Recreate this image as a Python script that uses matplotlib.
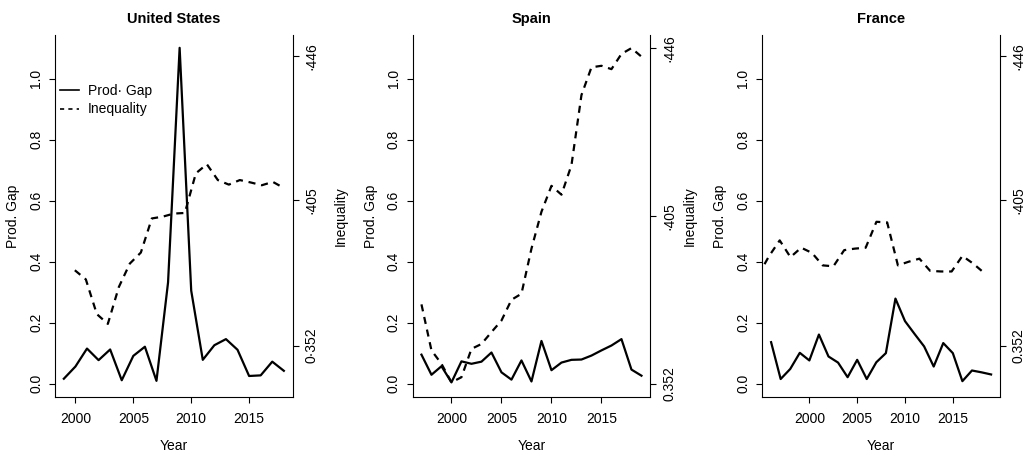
import numpy as np
import matplotlib
matplotlib.use("Agg")
import matplotlib.pyplot as plt
from matplotlib.lines import Line2D

plt.rcParams['font.family'] = ['Liberation Sans', 'DejaVu Sans']

# productivity gap (left axis)
us_years = list(range(1999, 2019))
us_gap = [0.016, 0.056, 0.115, 0.077, 0.112, 0.011, 0.091, 0.121, 0.009, 0.332,
          1.102, 0.305, 0.078, 0.126, 0.146, 0.111, 0.025, 0.027, 0.072, 0.042]
spain_years = list(range(1997, 2020))
spain_gap = [0.095, 0.029, 0.057, 0.004, 0.073, 0.065, 0.072, 0.102, 0.037, 0.013,
             0.076, 0.007, 0.140, 0.044, 0.069, 0.078, 0.079, 0.092, 0.109, 0.125,
             0.146, 0.046, 0.026]
france_years = list(range(1996, 2020))
france_gap = [0.136, 0.015, 0.048, 0.101, 0.076, 0.161, 0.089, 0.069, 0.021, 0.078,
              0.015, 0.070, 0.100, 0.279, 0.205, 0.163, 0.122, 0.056, 0.133, 0.100,
              0.008, 0.043, 0.037, 0.030]

# inequality, drawn on its own overlaid scale (values in plot units)
us_ineq_years = list(range(1999, 2019))
us_ineq = [0.372, 0.342, 0.228, 0.196, 0.317, 0.394, 0.430, 0.542, 0.548, 0.558,
           0.560, 0.690, 0.720, 0.668, 0.653, 0.668, 0.660, 0.651, 0.662, 0.642]
spain_ineq_years = list(range(1997, 2020))
spain_ineq = [0.260, 0.109, 0.065, 0.004, 0.021, 0.114, 0.130, 0.169, 0.207, 0.275,
              0.295, 0.443, 0.564, 0.649, 0.620, 0.717, 0.947, 1.038, 1.043, 1.032,
              1.082, 1.101, 1.073]
france_ineq_years = list(range(1997, 2019))
france_ineq = [0.355, 0.418, 0.470, 0.415, 0.446, 0.429, 0.388, 0.385, 0.438, 0.443,
               0.446, 0.531, 0.529, 0.388, 0.400, 0.410, 0.370, 0.368, 0.368, 0.419,
               0.394, 0.364]

titles = ['United States', 'Spain', 'France']
ineq_xlims = [(1997.2, 2018.8), (1996.12, 2019.88), (1997.38, 2019.49)]
right_ticks = [[0.125, 0.602, 1.076], [0.0, 0.551, 1.102], [0.125, 0.602, 1.076]]
right_labels = [['0\u00b7352', '\u00b7405', '\u00b7446'],
                ['0.352', '\u00b7405', '\u00b7446'],
                ['0.352', '\u00b7405', '\u00b7446']]
left_ticks = [0.0, 0.2, 0.4, 0.6, 0.8, 1.0]
year_ticks = [2000, 2005, 2010, 2015]

panels = [(us_years, us_gap, us_ineq_years, us_ineq),
          (spain_years, spain_gap, spain_ineq_years, spain_ineq),
          (france_years, france_gap, france_ineq_years, france_ineq)]
lefts = [0.0537, 0.4026, 0.7437]
ineq_label_off = [48, 39, None]

fig = plt.figure(figsize=(10.25, 4.53), dpi=100)
W, B, H = 0.2318, 0.1236, 0.7991
ylim = (-0.044, 1.144)


def padded(a, b):
    d = (b - a) * 0.04
    return a - d, b + d


for i, (yrs, gap, iyrs, ineq) in enumerate(panels):
    ax = fig.add_axes([lefts[i], B, W, H])
    ax.plot(yrs, gap, color='black', lw=1.6)
    ax.set_xlim(*padded(min(yrs), max(yrs)))
    ax.set_ylim(*ylim)
    ax.spines['top'].set_visible(False)
    ax.spines['right'].set_visible(False)
    for s in ['left', 'bottom']:
        ax.spines[s].set_linewidth(0.8)
    ax.set_xticks(year_ticks)
    ax.set_yticks(left_ticks, ['%.1f' % v for v in left_ticks])
    ax.tick_params(direction='out', length=4.5, width=0.8, labelsize=10, pad=4)
    ax.tick_params(axis='x', pad=6.5)
    for lbl in ax.get_yticklabels():
        lbl.set_rotation(90)
        lbl.set_va('center')
    ax.set_xlabel('Year', fontsize=10, labelpad=9)
    ax.set_ylabel('Prod. Gap', fontsize=10)
    ax.yaxis.set_label_coords(-42 / 237, 0.5)
    ax.yaxis.label.set_va('center')
    ax.set_title(titles[i], fontsize=10.5, fontweight='bold', pad=9)

    ax2 = fig.add_axes([lefts[i], B, W, H])
    ax2.patch.set_visible(False)
    ax2.plot(iyrs, ineq, color='black', lw=1.6, dashes=(3.2, 2.6))
    ax2.set_xlim(*ineq_xlims[i])
    ax2.set_ylim(*ylim)
    for s in ['top', 'left', 'bottom']:
        ax2.spines[s].set_visible(False)
    ax2.spines['right'].set_linewidth(0.8)
    ax2.set_xticks([])
    ax2.yaxis.tick_right()
    ax2.set_yticks(right_ticks[i], right_labels[i])
    ax2.tick_params(direction='out', length=4.5, width=0.8, labelsize=10, pad=4)
    for lbl in ax2.get_yticklabels():
        lbl.set_rotation(90)
        lbl.set_va('center')
    if ineq_label_off[i] is not None:
        ax2.yaxis.set_label_position('right')
        ax2.set_ylabel('Inequality', fontsize=10, rotation=90)
        ax2.yaxis.set_label_coords(1 + ineq_label_off[i] / 237, 0.5)
        ax2.yaxis.label.set_va('center')

    if i == 0:
        handles = [Line2D([], [], color='black', lw=1.2),
                   Line2D([], [], color='black', lw=1.2, dashes=(2.5, 2.5))]
        ax2.legend(handles, ['Prod\u00b7 Gap', 'Inequality'], loc='upper left',
                   bbox_to_anchor=(0.02, 0.866), frameon=False, fontsize=10,
                   handlelength=1.4, handletextpad=0.6, labelspacing=0.35,
                   borderpad=0, borderaxespad=0)

fig.savefig('out.png', dpi=100)
